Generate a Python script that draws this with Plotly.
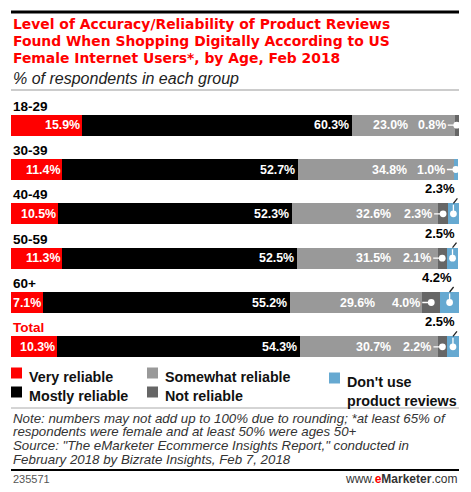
import plotly.graph_objects as go

ages = ['18-29', '30-39', '40-49', '50-59', '60+', 'Total']
very_reliable = [15.9, 11.4, 10.5, 11.3, 7.1, 10.3]
mostly_reliable = [60.3, 52.7, 52.3, 52.5, 55.2, 54.3]
somewhat_reliable = [23.0, 34.8, 32.6, 31.5, 29.6, 30.7]
not_reliable = [0.8, 0.0, 2.3, 2.1, 4.0, 2.2]
dont_use = [0.0, 1.0, 2.3, 2.5, 4.2, 2.5]

W, H = 471, 492
L, R, T, B = 11, 12, 103, 123
FONT = 'Liberation Sans'
WIDE = 'DejaVu Sans'
RED = '#ff0000'
C_SOME = '#999999'
C_NOT = '#666666'
C_DONT = '#66a9d1'


def px(x):  # pixel -> paper x
    return (x - L) / (W - L - R)


def py(y):  # pixel -> paper y
    return (H - B - y) / (H - T - B)


fig = go.Figure()
series = [
    ('Very reliable', very_reliable, RED),
    ('Mostly reliable', mostly_reliable, '#000000'),
    ('Somewhat reliable', somewhat_reliable, C_SOME),
    ('Not reliable', not_reliable, C_NOT),
    ("Don't use product reviews", dont_use, C_DONT),
]
for name, vals, col in series:
    fig.add_trace(go.Bar(
        y=ages, x=vals, name=name, orientation='h',
        marker=dict(color=col, line=dict(width=0)),
        width=0.47, showlegend=False, hoverinfo='skip',
    ))

ann = []
shapes = []
white = dict(family=FONT, size=12.4, color='white')

# category labels above bars
for a in ages:
    ann.append(dict(x=0, y=a, xref='x', yref='y', text=f'<b>{a}</b>',
                    xanchor='left', yanchor='middle', yshift=19, showarrow=False,
                    font=dict(family=FONT, size=13.5, color=RED if a == 'Total' else '#000')))

for i, a in enumerate(ages):
    end_very = very_reliable[i]
    end_most = end_very + mostly_reliable[i]
    end_some = end_most + somewhat_reliable[i]
    ann.append(dict(x=end_very, y=a, xref='x', yref='y', text=f'<b>{very_reliable[i]:.1f}%</b>',
                    xanchor='right', xshift=-1, borderpad=0, showarrow=False, font=white))
    ann.append(dict(x=end_most, y=a, xref='x', yref='y', text=f'<b>{mostly_reliable[i]:.1f}%</b>',
                    xanchor='right', xshift=-2, borderpad=0, showarrow=False, font=white))
    ann.append(dict(x=end_some, y=a, xref='x', yref='y',
                    text=f'<b>{somewhat_reliable[i]:.1f}%</b>', xanchor='right',
                    xshift=-45, showarrow=False, font=white))
    if not_reliable[i] > 0:
        ann.append(dict(x=end_some + not_reliable[i] / 2, y=a, xref='x', yref='y',
                        text=f'<b>{not_reliable[i]:.1f}%</b>', xanchor='right', yanchor='middle',
                        showarrow=True, ax=-9, ay=0, arrowhead=6, arrowsize=1.3,
                        arrowwidth=1.3, arrowcolor='white', font=white))
    if dont_use[i] > 0:
        xm = end_some + not_reliable[i] + dont_use[i] / 2
        if not_reliable[i] > 0:
            # black leader from the label down to the bar top
            ann.append(dict(x=xm, y=a, xref='x', yref='y', yshift=10.5,
                            text=f'<b>{dont_use[i]:.1f}%</b>', xanchor='right', yanchor='bottom',
                            showarrow=True, ax=4, ay=-5, arrowhead=0,
                            arrowwidth=1.3, arrowcolor='#222',
                            font=dict(family=FONT, size=13, color='#000')))
            # white leader with dot inside the bar
            ann.append(dict(x=xm, y=a, xref='x', yref='y', text=' ',
                            showarrow=True, ax=0, ay=-11, arrowhead=6, arrowsize=1.3,
                            arrowwidth=1.3, arrowcolor='white', font=dict(size=1)))
        else:
            ann.append(dict(x=xm, y=a, xref='x', yref='y',
                            text=f'<b>{dont_use[i]:.1f}%</b>', xanchor='right', yanchor='middle',
                            showarrow=True, ax=-9, ay=0, arrowhead=6, arrowsize=1.3,
                            arrowwidth=1.3, arrowcolor='white', font=white))

# title block
title_lines = ['Level of Accuracy/Reliability of Product Reviews',
               'Found When Shopping Digitally According to US',
               'Female Internet Users*, by Age, Feb 2018']
for k, t in enumerate(title_lines):
    ann.append(dict(x=px(11), y=py(24 + 17 * k), xref='paper', yref='paper', text=f'<b>{t}</b>',
                    xanchor='left', yanchor='middle', showarrow=False,
                    font=dict(family=WIDE, size=13.9, color=RED)))
ann.append(dict(x=px(11), y=py(78), xref='paper', yref='paper',
                text='<i>% of respondents in each group</i>', xanchor='left', yanchor='middle',
                showarrow=False, font=dict(family=FONT, size=16, color='#222')))

# legend drawn by hand
legend_items = [('Very reliable', RED, 11, 373), ('Mostly reliable', '#000', 11, 392),
                ('Somewhat reliable', C_SOME, 147, 373), ('Not reliable', C_NOT, 147, 392),
                ("Don't use<br>product reviews", C_DONT, 329, 378)]
for lab, col, x0, yc in legend_items:
    shapes.append(dict(type='rect', xref='paper', yref='paper', x0=px(x0), x1=px(x0 + 11),
                       y0=py(yc - 5.5), y1=py(yc + 5.5), fillcolor=col, line=dict(width=0)))
    ann.append(dict(x=px(x0 + 16), y=py(yc - 6), xref='paper', yref='paper', text=f'<b>{lab}</b>',
                    xanchor='left', yanchor='top', align='left', showarrow=False,
                    font=dict(family=FONT, size=14.3, color='#111')))

notes = ['Note: numbers may not add up to 100% due to rounding; *at least 65% of',
         'respondents were female and at least 50% were ages 50+',
         'Source: "The eMarketer Ecommerce Insights Report," conducted in',
         'February 2018 by Bizrate Insights, Feb 7, 2018']
for k, t in enumerate(notes):
    ann.append(dict(x=px(11), y=py(418 + 13.7 * k), xref='paper', yref='paper', text=f'<i>{t}</i>',
                    xanchor='left', yanchor='middle', showarrow=False,
                    font=dict(family=FONT, size=13.3, color='#333')))
ann.append(dict(x=px(11), y=py(479), xref='paper', yref='paper', text='235571',
                xanchor='left', yanchor='middle', showarrow=False,
                font=dict(family=FONT, size=11, color='#555')))
ann.append(dict(x=px(459), y=py(479), xref='paper', yref='paper',
                text='www.<b><span style="color:#ff0000">e</span>Marketer</b>.com',
                xanchor='right', yanchor='middle', showarrow=False,
                font=dict(family=FONT, size=12, color='#333')))

# rules
for y, col, w in [(12, '#000', 3), (90, '#999', 1), (408, '#aaa', 1), (470, '#000', 2)]:
    shapes.append(dict(type='line', xref='paper', yref='paper', x0=px(11), x1=px(459),
                       y0=py(y), y1=py(y), line=dict(color=col, width=w)))

fig.update_layout(
    barmode='stack', width=W, height=H,
    margin=dict(l=L, r=R, t=T, b=B),
    paper_bgcolor='white', plot_bgcolor='white',
    xaxis=dict(range=[0, 100.1], visible=False, fixedrange=True),
    yaxis=dict(categoryorder='array', categoryarray=ages, range=[5.5, -0.5],
               visible=False, fixedrange=True),
    annotations=ann, shapes=shapes, showlegend=False,
)
fig.write_html('out.html', config={'displayModeBar': False},
               post_script="document.body.style.margin='0';")
